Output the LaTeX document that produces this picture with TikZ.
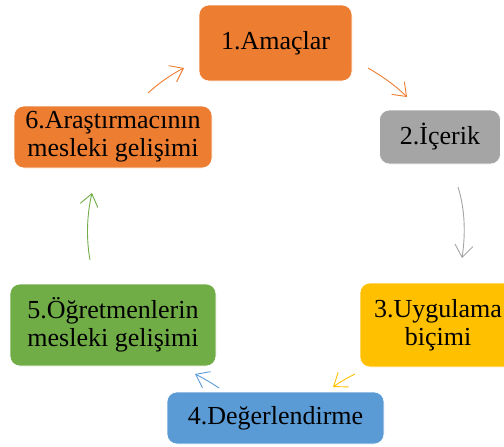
\documentclass[tikz,border=0pt]{standalone}
\usepackage{fontspec}
\setmainfont{Liberation Serif}
\usetikzlibrary{arrows.meta}
\definecolor{cOrange}{HTML}{ED7D31}
\definecolor{cGray}{HTML}{A5A5A5}
\definecolor{cYellow}{HTML}{FFC000}
\definecolor{cBlue}{HTML}{5B9BD5}
\definecolor{cGreen}{HTML}{70AD47}
\tikzset{
  stagebox/.style={rounded corners=10pt, draw=white, line width=0.6pt, align=center,
    inner sep=0pt, font=\fontsize{26}{28}\selectfont, text=black},
  cyclearrow/.style={line width=0.9pt, -{Straight Barb[length=12pt,width=18pt,line width=0.9pt]}}
}
\begin{document}
\begin{tikzpicture}[x=1pt,y=-1pt]
\useasboundingbox (0,0) rectangle (504,447);
\clip (0,0) rectangle (504,447);
\node[stagebox, fill=cOrange, minimum width=153pt, minimum height=76pt] (n1) at (275.5,43) {1.Amaçlar};
\node[stagebox, fill=cGray, minimum width=121pt, minimum height=54pt] (n2) at (440,137) {2.İçerik};
\node[stagebox, fill=cYellow, minimum width=156pt, minimum height=84pt] (n3) at (438,325) {3.Uygulama\\biçimi};
\node[stagebox, fill=cBlue, minimum width=217pt, minimum height=52pt] (n4) at (275.5,418) {4.Değerlendirme};
\node[stagebox, fill=cGreen, minimum width=206pt, minimum height=82pt] (n5) at (113,325) {5.Öğretmenlerin\\mesleki gelişimi};
\node[stagebox, fill=cOrange, minimum width=198pt, minimum height=62pt] (n6) at (113,137) {6.Araştırmacının\\mesleki gelişimi};
\coordinate (a1s) at (368,68); \coordinate (a1e) at (407,97);
\coordinate (a2s) at (458,187); \coordinate (a2e) at (462,258);
\coordinate (a3s) at (355,374); \coordinate (a3e) at (333,387);
\coordinate (a4s) at (219,388); \coordinate (a4e) at (195,374);
\coordinate (a5s) at (90,260); \coordinate (a5e) at (92,193);
\coordinate (a6s) at (148,93); \coordinate (a6e) at (184,68);
\draw[cyclearrow, cOrange] (a1s) .. controls (382,76) and (396,86) .. (a1e);
\draw[cyclearrow, cGray] (a2s) .. controls (466,212) and (465,238) .. (a2e);
\draw[cyclearrow, cYellow] (a3s) .. controls (347,378) and (340,382) .. (a3e);
\draw[cyclearrow, cBlue] (a4s) .. controls (210,382) and (203,378) .. (a4e);
\draw[cyclearrow, cGreen] (a5s) .. controls (86,238) and (87,214) .. (a5e);
\draw[cyclearrow, cOrange] (a6s) .. controls (158,84) and (170,75) .. (a6e);
\end{tikzpicture}
\end{document}
